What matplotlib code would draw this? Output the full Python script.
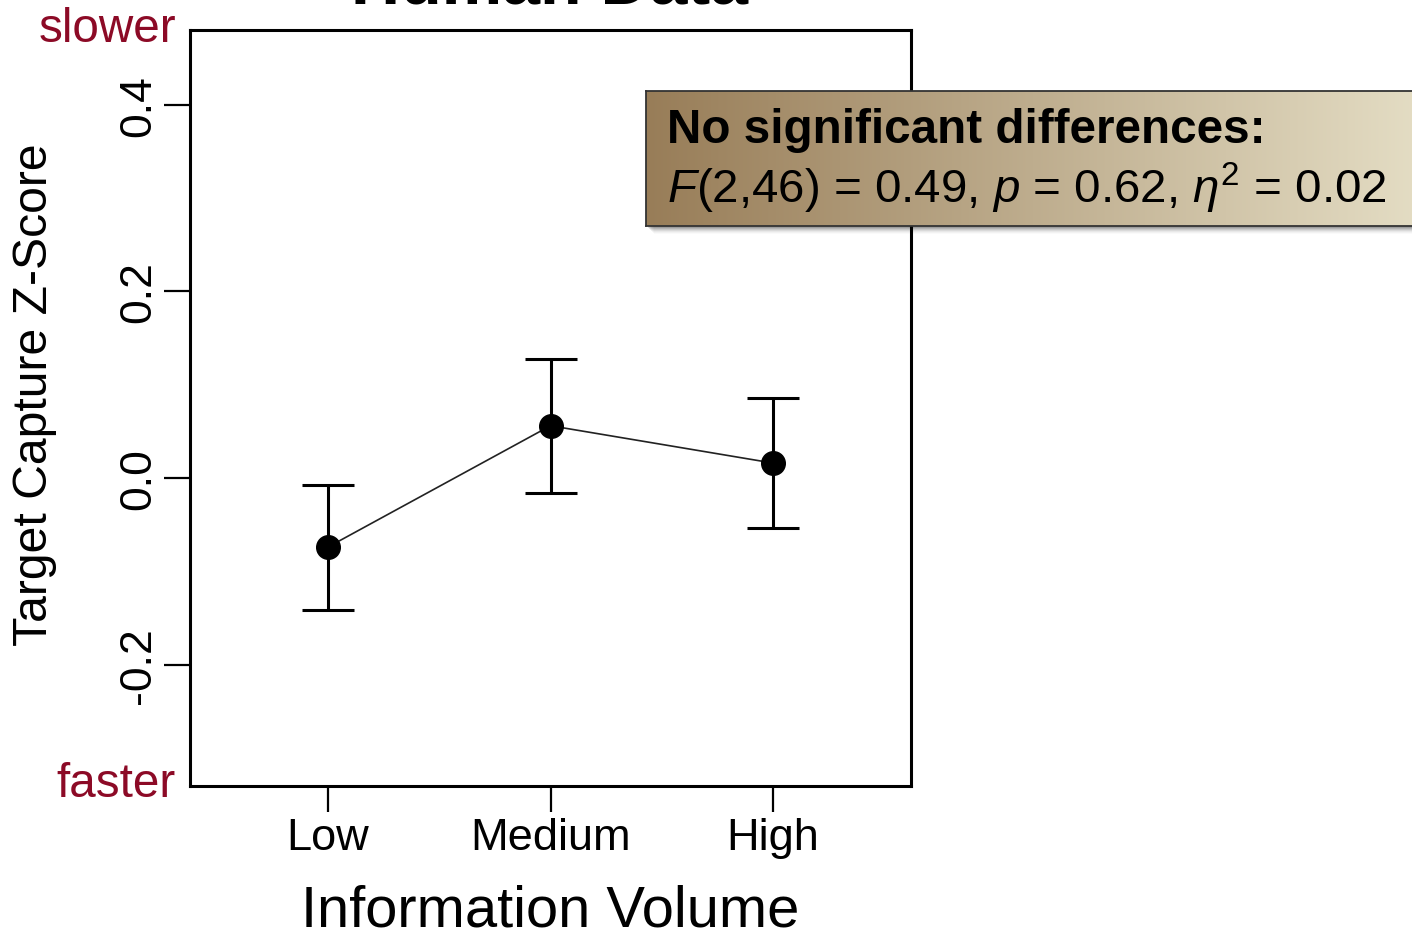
import numpy as np
from matplotlib import pyplot as plt
from matplotlib.patches import Rectangle

plt.rcParams['font.family'] = ['Liberation Sans', 'DejaVu Sans']
plt.rcParams['mathtext.fontset'] = 'custom'
plt.rcParams['mathtext.rm'] = 'Liberation Sans'
plt.rcParams['mathtext.it'] = 'Liberation Sans:italic'
plt.rcParams['mathtext.bf'] = 'Liberation Sans:bold'

# data
condiciones = ['Low', 'Medium', 'High']
x_pos = [1, 2, 3]
medias = [-0.074, 0.056, 0.016]
errores = [0.067, 0.072, 0.070]
y_ticks = [-0.2, 0.0, 0.2, 0.4]
y_ticklabels = ['-0.2', '0.0', '0.2', '0.4']

W, H = 1412, 937
fig = plt.figure(figsize=(W / 100, H / 100), dpi=100)
ax = fig.add_axes([190 / W, 1 - 787 / H, (911 - 190) / W, (787 - 31) / H])

ax.plot(x_pos, medias, color='#222222', lw=1.2, zorder=2)
ax.errorbar(x_pos, medias, yerr=errores, fmt='none', ecolor='black',
            elinewidth=2.2, capsize=19, capthick=2.2, zorder=3)
ax.plot(x_pos, medias, 'o', color='black', ms=17, zorder=4)

ax.set_xlim(0.38, 3.62)
ax.set_ylim(-0.33, 0.48)
ax.set_xticks(x_pos)
ax.set_xticklabels(condiciones, fontsize=32.5)
ax.set_yticks(y_ticks)
ax.set_yticklabels(y_ticklabels, fontsize=32, rotation=90, va='center')
ax.tick_params(axis='both', length=19, width=1.6, direction='out')
ax.tick_params(axis='x', pad=3)
ax.tick_params(axis='y', pad=3)
for s in ax.spines.values():
    s.set_linewidth(2.2)

fig.text(550 / W, 1 - 912 / H, 'Information Volume', fontsize=41.7,
         ha='center', va='center')
fig.text(35 / W, 1 - 395 / H, 'Target Capture Z-Score', fontsize=34.7,
         rotation=90, ha='center', va='center')
fig.text(550 / W, 1 - 4 / H, 'Human Data', fontsize=49, fontweight='bold',
         ha='center', va='baseline')

rojo = '#8C0A26'
fig.text(176 / W, 1 - 42 / H, 'slower', fontsize=34.3, color=rojo,
         ha='right', va='baseline')
fig.text(176 / W, 1 - 797 / H, 'faster', fontsize=34.3, color=rojo,
         ha='right', va='baseline')

# annotation box with gradient and soft shadow
bx0, by0, bx1, by1 = 646, 92, 1420, 227
for k, a in enumerate([0.12, 0.10, 0.08, 0.06, 0.04, 0.03, 0.02]):
    off = 2 + k
    fig.patches.append(Rectangle(((bx0 + off) / W, 1 - (by1 + off) / H),
                                 (bx1 - bx0) / W, (by1 - by0) / H,
                                 transform=fig.transFigure, facecolor='black',
                                 edgecolor='none', alpha=a, zorder=5))
bax = fig.add_axes([bx0 / W, 1 - by1 / H, (bx1 - bx0) / W, (by1 - by0) / H])
bax.set_zorder(6)
c0 = np.array([152, 125, 88]) / 255
c1 = np.array([228, 221, 196]) / 255
t = np.linspace(0, 1, 400)[:, None]
grad = (c0 * (1 - t) + c1 * t)[None, :, :]
bax.imshow(grad, aspect='auto', extent=(0, 1, 0, 1))
bax.set_xlim(0, 1)
bax.set_ylim(0, 1)
bax.set_xticks([])
bax.set_yticks([])
for s in bax.spines.values():
    s.set_linewidth(1.3)
    s.set_color('#333333')

bax.text((667 - bx0) / (bx1 - bx0), (by1 - 143) / (by1 - by0),
         'No significant differences:', fontsize=34.3, fontweight='bold',
         ha='left', va='baseline', transform=bax.transAxes)
bax.text((667 - bx0) / (bx1 - bx0), (by1 - 203) / (by1 - by0),
         r'$F$(2,46) = 0.49, $p$ = 0.62, $\eta^2$ = 0.02', fontsize=34.2,
         ha='left', va='baseline', transform=bax.transAxes)

fig.savefig('out.png', dpi=100)
